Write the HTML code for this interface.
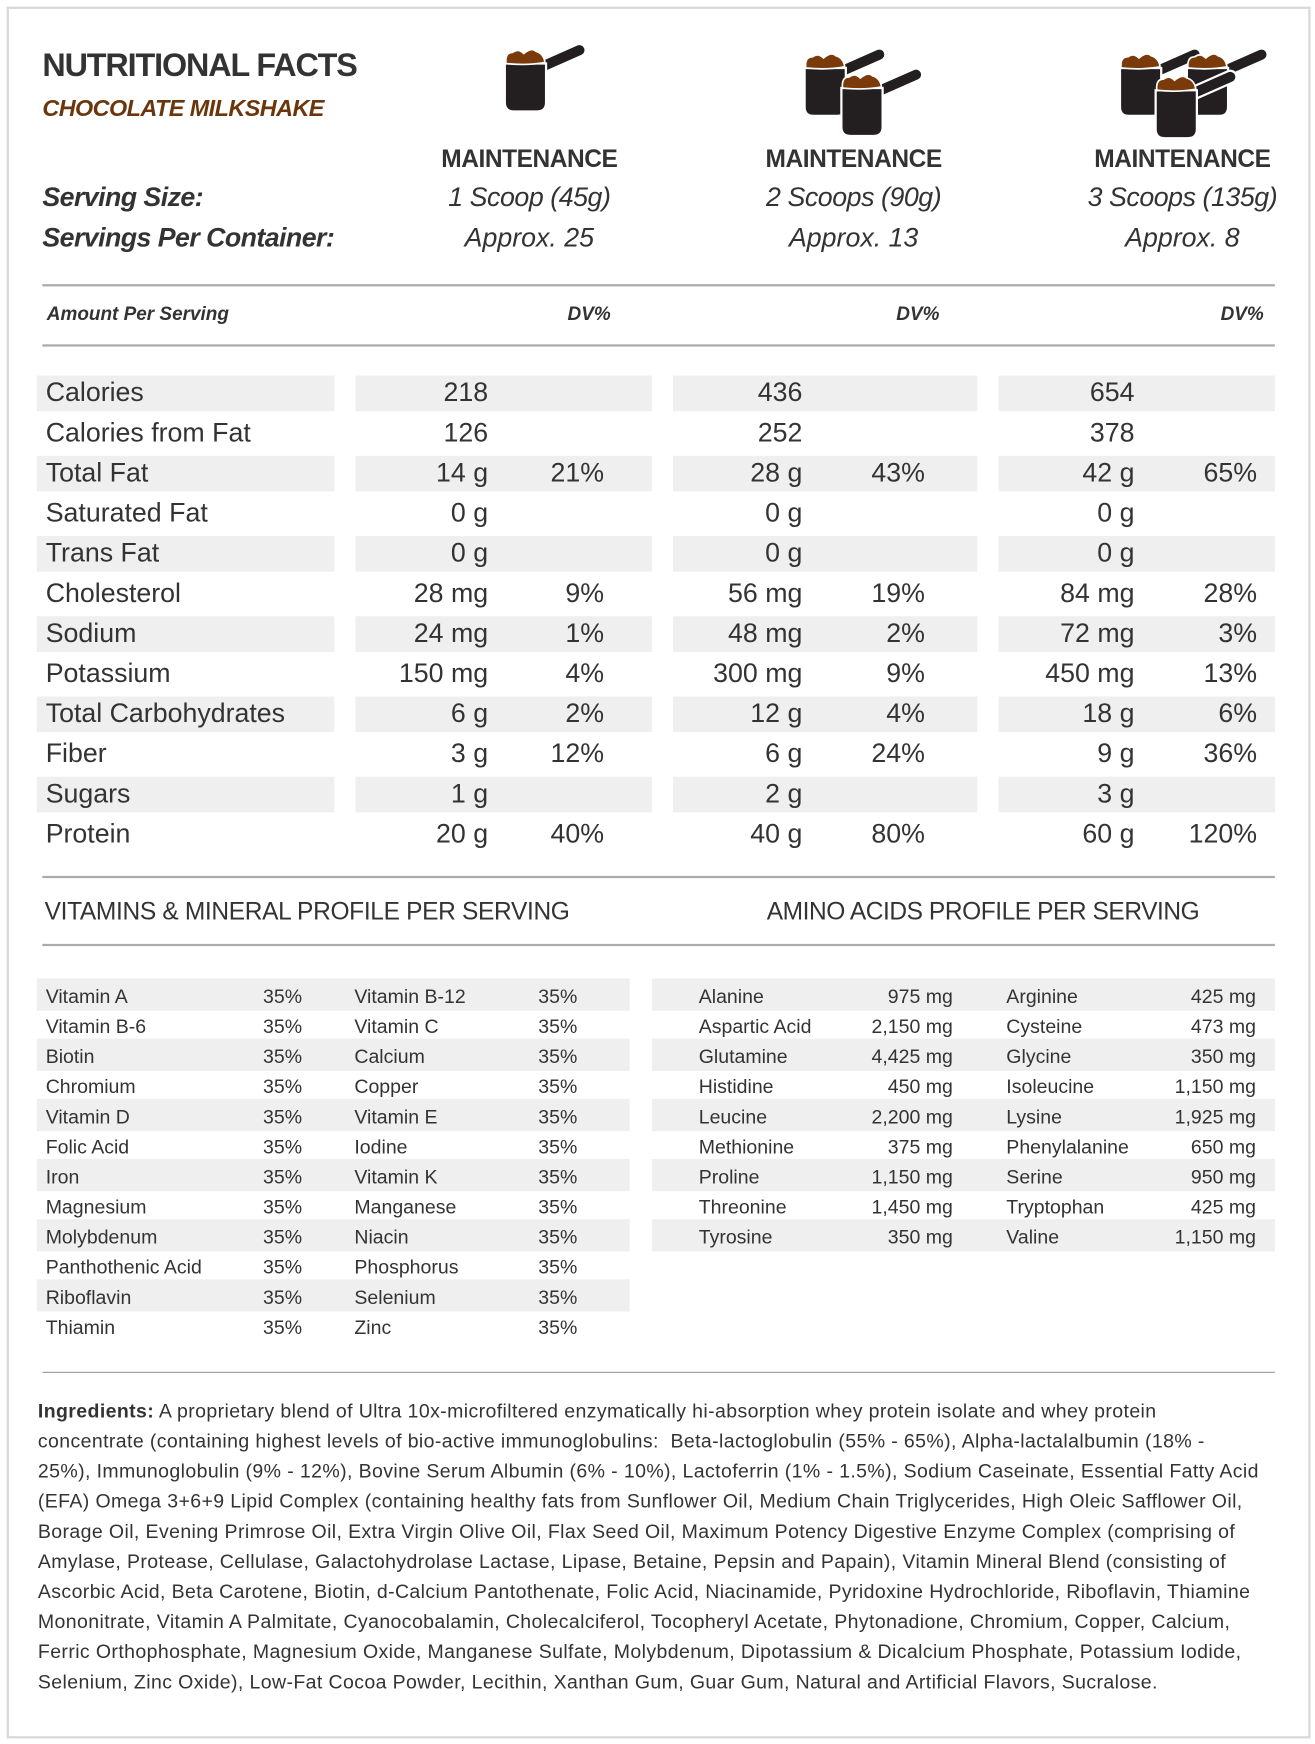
<!DOCTYPE html>
<html><head><meta charset="utf-8">
<style>
html,body{margin:0;padding:0;background:#fff;}
body{width:1315px;height:1744px;overflow:hidden;position:relative;}
#w{position:absolute;left:0;top:0;width:1180px;height:1565px;transform:scale(1.11441,1.11437);transform-origin:0 0;font-family:"Liberation Sans",sans-serif;color:#333;}
.a{position:absolute;white-space:nowrap;line-height:1;}
.sh{position:absolute;background:#efefef;}
.hl{position:absolute;height:2px;background:#aaa;left:38px;width:1106px;}
.r{text-align:right;}
.it{font-style:italic;}
.ing div{white-space:nowrap;}
</style></head><body><div id="w">
<div style="position:absolute;left:6px;top:6px;width:1166px;height:1550px;border:2px solid #d8d8d8;"></div>

<svg width="1180" height="130" style="position:absolute;left:0;top:0">
<defs>
<g id="sc">
<line x1="33" y1="20" x2="67" y2="5" stroke="#fff" stroke-width="13" stroke-linecap="round"/>
<line x1="33" y1="20" x2="67" y2="5" stroke="#231f20" stroke-width="9" stroke-linecap="round"/>
<path d="M0,17 L37,17 L37,52 Q37,60 29,60 L8,60 Q0,60 0,52 Z" fill="#231f20" stroke="#fff" stroke-width="2"/>
<path d="M1,17 Q0,7 7,7 Q12,3 17,8 Q24,2 28,6 Q35,8 36,16 Q20,19 1,17 Z" fill="#7a3a0a" stroke="#fff" stroke-width="1.5"/>
</g></defs>
<use href="#sc" x="453" y="40"/>
<use href="#sc" x="722" y="44"/>
<use href="#sc" x="755" y="62"/>
<use href="#sc" x="1005" y="44"/>
<use href="#sc" x="1065" y="44"/>
<use href="#sc" x="1037" y="64"/>
</svg>

<div class="a" style="left:38px;top:45px;font-size:29px;font-weight:bold;letter-spacing:-1px;">NUTRITIONAL FACTS</div>
<div class="a it" style="left:38px;top:87px;font-size:21px;font-weight:bold;color:#6b360c;letter-spacing:-0.5px;">CHOCOLATE MILKSHAKE</div>

<div class="a" style="left:375px;width:200px;text-align:center;top:132px;font-size:22px;font-weight:bold;letter-spacing:-0.4px;">MAINTENANCE</div>
<div class="a" style="left:666px;width:200px;text-align:center;top:132px;font-size:22px;font-weight:bold;letter-spacing:-0.4px;">MAINTENANCE</div>
<div class="a" style="left:961px;width:200px;text-align:center;top:132px;font-size:22px;font-weight:bold;letter-spacing:-0.4px;">MAINTENANCE</div>

<div class="a it" style="left:38px;top:166px;font-size:24px;font-weight:bold;letter-spacing:-0.5px;">Serving Size:</div>
<div class="a it" style="left:38px;top:202px;font-size:24px;font-weight:bold;letter-spacing:-0.5px;">Servings Per Container:</div>
<div class="a it" style="left:375px;width:200px;text-align:center;top:166px;font-size:24px;letter-spacing:-0.4px;">1 Scoop (45g)</div>
<div class="a it" style="left:666px;width:200px;text-align:center;top:166px;font-size:24px;letter-spacing:-0.4px;">2 Scoops (90g)</div>
<div class="a it" style="left:961px;width:200px;text-align:center;top:166px;font-size:24px;letter-spacing:-0.4px;">3 Scoops (135g)</div>
<div class="a it" style="left:375px;width:200px;text-align:center;top:202px;font-size:24px;">Approx. 25</div>
<div class="a it" style="left:666px;width:200px;text-align:center;top:202px;font-size:24px;">Approx. 13</div>
<div class="a it" style="left:961px;width:200px;text-align:center;top:202px;font-size:24px;">Approx. 8</div>

<div class="hl" style="top:255px"></div>
<div class="a it" style="left:42px;top:273px;font-size:17px;font-weight:bold;">Amount Per Serving</div>
<div class="a it r" style="left:448px;width:100px;top:273px;font-size:17px;font-weight:bold;">DV%</div>
<div class="a it r" style="left:743px;width:100px;top:273px;font-size:17px;font-weight:bold;">DV%</div>
<div class="a it r" style="left:1034px;width:100px;top:273px;font-size:17px;font-weight:bold;">DV%</div>
<div class="hl" style="top:309px"></div>

<div class="hl" style="top:786px"></div>
<div class="a" style="left:40px;top:807px;font-size:22px;letter-spacing:-0.3px;">VITAMINS &amp; MINERAL PROFILE PER SERVING</div>
<div class="a" style="left:688px;top:807px;font-size:22px;letter-spacing:-0.4px;">AMINO ACIDS PROFILE PER SERVING</div>
<div class="hl" style="top:847px"></div>

<div class="hl" style="top:1231px;height:1px;background:#999"></div>
<div class="ing" style="position:absolute;left:34px;top:1253px;font-size:17.5px;line-height:27px;letter-spacing:0.35px;">
<div><b>Ingredients:</b> A proprietary blend of Ultra 10x-microfiltered enzymatically hi-absorption whey protein isolate and whey protein</div>
<div>concentrate (containing highest levels of bio-active immunoglobulins:&nbsp; Beta-lactoglobulin (55% - 65%), Alpha-lactalalbumin (18% -</div>
<div>25%), Immunoglobulin (9% - 12%), Bovine Serum Albumin (6% - 10%), Lactoferrin (1% - 1.5%), Sodium Caseinate, Essential Fatty Acid</div>
<div>(EFA) Omega 3+6+9 Lipid Complex (containing healthy fats from Sunflower Oil, Medium Chain Triglycerides, High Oleic Safflower Oil,</div>
<div>Borage Oil, Evening Primrose Oil, Extra Virgin Olive Oil, Flax Seed Oil, Maximum Potency Digestive Enzyme Complex (comprising of</div>
<div>Amylase, Protease, Cellulase, Galactohydrolase Lactase, Lipase, Betaine, Pepsin and Papain), Vitamin Mineral Blend (consisting of</div>
<div>Ascorbic Acid, Beta Carotene, Biotin, d-Calcium Pantothenate, Folic Acid, Niacinamide, Pyridoxine Hydrochloride, Riboflavin, Thiamine</div>
<div>Mononitrate, Vitamin A Palmitate, Cyanocobalamin, Cholecalciferol, Tocopheryl Acetate, Phytonadione, Chromium, Copper, Calcium,</div>
<div>Ferric Orthophosphate, Magnesium Oxide, Manganese Sulfate, Molybdenum, Dipotassium &amp; Dicalcium Phosphate, Potassium Iodide,</div>
<div>Selenium, Zinc Oxide), Low-Fat Cocoa Powder, Lecithin, Xanthan Gum, Guar Gum, Natural and Artificial Flavors, Sucralose.</div>
</div>

<!-- Nutrient rows -->
<div class="sh" style="left:33px;top:337px;width:267px;height:32px"></div><div class="sh" style="left:319px;top:337px;width:266px;height:32px"></div><div class="sh" style="left:604px;top:337px;width:273px;height:32px"></div><div class="sh" style="left:896px;top:337px;width:248px;height:32px"></div>
<div class="sh" style="left:33px;top:409px;width:267px;height:32px"></div><div class="sh" style="left:319px;top:409px;width:266px;height:32px"></div><div class="sh" style="left:604px;top:409px;width:273px;height:32px"></div><div class="sh" style="left:896px;top:409px;width:248px;height:32px"></div>
<div class="sh" style="left:33px;top:481px;width:267px;height:32px"></div><div class="sh" style="left:319px;top:481px;width:266px;height:32px"></div><div class="sh" style="left:604px;top:481px;width:273px;height:32px"></div><div class="sh" style="left:896px;top:481px;width:248px;height:32px"></div>
<div class="sh" style="left:33px;top:553px;width:267px;height:32px"></div><div class="sh" style="left:319px;top:553px;width:266px;height:32px"></div><div class="sh" style="left:604px;top:553px;width:273px;height:32px"></div><div class="sh" style="left:896px;top:553px;width:248px;height:32px"></div>
<div class="sh" style="left:33px;top:625px;width:267px;height:32px"></div><div class="sh" style="left:319px;top:625px;width:266px;height:32px"></div><div class="sh" style="left:604px;top:625px;width:273px;height:32px"></div><div class="sh" style="left:896px;top:625px;width:248px;height:32px"></div>
<div class="sh" style="left:33px;top:697px;width:267px;height:32px"></div><div class="sh" style="left:319px;top:697px;width:266px;height:32px"></div><div class="sh" style="left:604px;top:697px;width:273px;height:32px"></div><div class="sh" style="left:896px;top:697px;width:248px;height:32px"></div>

<div style="position:absolute;left:0;top:341px;font-size:24px;">
<div class="a" style="left:41px;top:0">Calories</div><div class="a r" style="left:338px;width:100px;top:0">218</div><div class="a r" style="left:620px;width:100px;top:0">436</div><div class="a r" style="left:918px;width:100px;top:0">654</div>
<div class="a" style="left:41px;top:36px">Calories from Fat</div><div class="a r" style="left:338px;width:100px;top:36px">126</div><div class="a r" style="left:620px;width:100px;top:36px">252</div><div class="a r" style="left:918px;width:100px;top:36px">378</div>
<div class="a" style="left:41px;top:72px">Total Fat</div><div class="a r" style="left:338px;width:100px;top:72px">14 g</div><div class="a r" style="left:442px;width:100px;top:72px">21%</div><div class="a r" style="left:620px;width:100px;top:72px">28 g</div><div class="a r" style="left:730px;width:100px;top:72px">43%</div><div class="a r" style="left:918px;width:100px;top:72px">42 g</div><div class="a r" style="left:1028px;width:100px;top:72px">65%</div>
<div class="a" style="left:41px;top:108px">Saturated Fat</div><div class="a r" style="left:338px;width:100px;top:108px">0 g</div><div class="a r" style="left:620px;width:100px;top:108px">0 g</div><div class="a r" style="left:918px;width:100px;top:108px">0 g</div>
<div class="a" style="left:41px;top:144px">Trans Fat</div><div class="a r" style="left:338px;width:100px;top:144px">0 g</div><div class="a r" style="left:620px;width:100px;top:144px">0 g</div><div class="a r" style="left:918px;width:100px;top:144px">0 g</div>
<div class="a" style="left:41px;top:180px">Cholesterol</div><div class="a r" style="left:338px;width:100px;top:180px">28 mg</div><div class="a r" style="left:442px;width:100px;top:180px">9%</div><div class="a r" style="left:620px;width:100px;top:180px">56 mg</div><div class="a r" style="left:730px;width:100px;top:180px">19%</div><div class="a r" style="left:918px;width:100px;top:180px">84 mg</div><div class="a r" style="left:1028px;width:100px;top:180px">28%</div>
<div class="a" style="left:41px;top:216px">Sodium</div><div class="a r" style="left:338px;width:100px;top:216px">24 mg</div><div class="a r" style="left:442px;width:100px;top:216px">1%</div><div class="a r" style="left:620px;width:100px;top:216px">48 mg</div><div class="a r" style="left:730px;width:100px;top:216px">2%</div><div class="a r" style="left:918px;width:100px;top:216px">72 mg</div><div class="a r" style="left:1028px;width:100px;top:216px">3%</div>
<div class="a" style="left:41px;top:252px">Potassium</div><div class="a r" style="left:338px;width:100px;top:252px">150 mg</div><div class="a r" style="left:442px;width:100px;top:252px">4%</div><div class="a r" style="left:620px;width:100px;top:252px">300 mg</div><div class="a r" style="left:730px;width:100px;top:252px">9%</div><div class="a r" style="left:918px;width:100px;top:252px">450 mg</div><div class="a r" style="left:1028px;width:100px;top:252px">13%</div>
<div class="a" style="left:41px;top:288px">Total Carbohydrates</div><div class="a r" style="left:338px;width:100px;top:288px">6 g</div><div class="a r" style="left:442px;width:100px;top:288px">2%</div><div class="a r" style="left:620px;width:100px;top:288px">12 g</div><div class="a r" style="left:730px;width:100px;top:288px">4%</div><div class="a r" style="left:918px;width:100px;top:288px">18 g</div><div class="a r" style="left:1028px;width:100px;top:288px">6%</div>
<div class="a" style="left:41px;top:324px">Fiber</div><div class="a r" style="left:338px;width:100px;top:324px">3 g</div><div class="a r" style="left:442px;width:100px;top:324px">12%</div><div class="a r" style="left:620px;width:100px;top:324px">6 g</div><div class="a r" style="left:730px;width:100px;top:324px">24%</div><div class="a r" style="left:918px;width:100px;top:324px">9 g</div><div class="a r" style="left:1028px;width:100px;top:324px">36%</div>
<div class="a" style="left:41px;top:360px">Sugars</div><div class="a r" style="left:338px;width:100px;top:360px">1 g</div><div class="a r" style="left:620px;width:100px;top:360px">2 g</div><div class="a r" style="left:918px;width:100px;top:360px">3 g</div>
<div class="a" style="left:41px;top:396px">Protein</div><div class="a r" style="left:338px;width:100px;top:396px">20 g</div><div class="a r" style="left:442px;width:100px;top:396px">40%</div><div class="a r" style="left:620px;width:100px;top:396px">40 g</div><div class="a r" style="left:730px;width:100px;top:396px">80%</div><div class="a r" style="left:918px;width:100px;top:396px">60 g</div><div class="a r" style="left:1028px;width:100px;top:396px">120%</div>
</div>

<!-- vitamins shading -->
<div class="sh" style="left:33px;top:878px;width:532px;height:29px"></div>
<div class="sh" style="left:33px;top:932px;width:532px;height:29px"></div>
<div class="sh" style="left:33px;top:986px;width:532px;height:29px"></div>
<div class="sh" style="left:33px;top:1040px;width:532px;height:29px"></div>
<div class="sh" style="left:33px;top:1094px;width:532px;height:29px"></div>
<div class="sh" style="left:33px;top:1148px;width:532px;height:29px"></div>
<div class="sh" style="left:585px;top:878px;width:559px;height:29px"></div>
<div class="sh" style="left:585px;top:932px;width:559px;height:29px"></div>
<div class="sh" style="left:585px;top:986px;width:559px;height:29px"></div>
<div class="sh" style="left:585px;top:1040px;width:559px;height:29px"></div>
<div class="sh" style="left:585px;top:1094px;width:559px;height:29px"></div>

<div style="position:absolute;left:0;top:886px;font-size:17.5px;">
<div class="a" style="left:41px;top:0">Vitamin A</div><div class="a" style="left:236px;top:0">35%</div><div class="a" style="left:318px;top:0">Vitamin B-12</div><div class="a" style="left:483px;top:0">35%</div>
<div class="a" style="left:41px;top:27px">Vitamin B-6</div><div class="a" style="left:236px;top:27px">35%</div><div class="a" style="left:318px;top:27px">Vitamin C</div><div class="a" style="left:483px;top:27px">35%</div>
<div class="a" style="left:41px;top:54px">Biotin</div><div class="a" style="left:236px;top:54px">35%</div><div class="a" style="left:318px;top:54px">Calcium</div><div class="a" style="left:483px;top:54px">35%</div>
<div class="a" style="left:41px;top:81px">Chromium</div><div class="a" style="left:236px;top:81px">35%</div><div class="a" style="left:318px;top:81px">Copper</div><div class="a" style="left:483px;top:81px">35%</div>
<div class="a" style="left:41px;top:108px">Vitamin D</div><div class="a" style="left:236px;top:108px">35%</div><div class="a" style="left:318px;top:108px">Vitamin E</div><div class="a" style="left:483px;top:108px">35%</div>
<div class="a" style="left:41px;top:135px">Folic Acid</div><div class="a" style="left:236px;top:135px">35%</div><div class="a" style="left:318px;top:135px">Iodine</div><div class="a" style="left:483px;top:135px">35%</div>
<div class="a" style="left:41px;top:162px">Iron</div><div class="a" style="left:236px;top:162px">35%</div><div class="a" style="left:318px;top:162px">Vitamin K</div><div class="a" style="left:483px;top:162px">35%</div>
<div class="a" style="left:41px;top:189px">Magnesium</div><div class="a" style="left:236px;top:189px">35%</div><div class="a" style="left:318px;top:189px">Manganese</div><div class="a" style="left:483px;top:189px">35%</div>
<div class="a" style="left:41px;top:216px">Molybdenum</div><div class="a" style="left:236px;top:216px">35%</div><div class="a" style="left:318px;top:216px">Niacin</div><div class="a" style="left:483px;top:216px">35%</div>
<div class="a" style="left:41px;top:243px">Panthothenic Acid</div><div class="a" style="left:236px;top:243px">35%</div><div class="a" style="left:318px;top:243px">Phosphorus</div><div class="a" style="left:483px;top:243px">35%</div>
<div class="a" style="left:41px;top:270px">Riboflavin</div><div class="a" style="left:236px;top:270px">35%</div><div class="a" style="left:318px;top:270px">Selenium</div><div class="a" style="left:483px;top:270px">35%</div>
<div class="a" style="left:41px;top:297px">Thiamin</div><div class="a" style="left:236px;top:297px">35%</div><div class="a" style="left:318px;top:297px">Zinc</div><div class="a" style="left:483px;top:297px">35%</div>

<div class="a" style="left:627px;top:0">Alanine</div><div class="a r" style="left:735px;width:120px;top:0">975 mg</div><div class="a" style="left:903px;top:0">Arginine</div><div class="a r" style="left:1007px;width:120px;top:0">425 mg</div>
<div class="a" style="left:627px;top:27px">Aspartic Acid</div><div class="a r" style="left:735px;width:120px;top:27px">2,150 mg</div><div class="a" style="left:903px;top:27px">Cysteine</div><div class="a r" style="left:1007px;width:120px;top:27px">473 mg</div>
<div class="a" style="left:627px;top:54px">Glutamine</div><div class="a r" style="left:735px;width:120px;top:54px">4,425 mg</div><div class="a" style="left:903px;top:54px">Glycine</div><div class="a r" style="left:1007px;width:120px;top:54px">350 mg</div>
<div class="a" style="left:627px;top:81px">Histidine</div><div class="a r" style="left:735px;width:120px;top:81px">450 mg</div><div class="a" style="left:903px;top:81px">Isoleucine</div><div class="a r" style="left:1007px;width:120px;top:81px">1,150 mg</div>
<div class="a" style="left:627px;top:108px">Leucine</div><div class="a r" style="left:735px;width:120px;top:108px">2,200 mg</div><div class="a" style="left:903px;top:108px">Lysine</div><div class="a r" style="left:1007px;width:120px;top:108px">1,925 mg</div>
<div class="a" style="left:627px;top:135px">Methionine</div><div class="a r" style="left:735px;width:120px;top:135px">375 mg</div><div class="a" style="left:903px;top:135px">Phenylalanine</div><div class="a r" style="left:1007px;width:120px;top:135px">650 mg</div>
<div class="a" style="left:627px;top:162px">Proline</div><div class="a r" style="left:735px;width:120px;top:162px">1,150 mg</div><div class="a" style="left:903px;top:162px">Serine</div><div class="a r" style="left:1007px;width:120px;top:162px">950 mg</div>
<div class="a" style="left:627px;top:189px">Threonine</div><div class="a r" style="left:735px;width:120px;top:189px">1,450 mg</div><div class="a" style="left:903px;top:189px">Tryptophan</div><div class="a r" style="left:1007px;width:120px;top:189px">425 mg</div>
<div class="a" style="left:627px;top:216px">Tyrosine</div><div class="a r" style="left:735px;width:120px;top:216px">350 mg</div><div class="a" style="left:903px;top:216px">Valine</div><div class="a r" style="left:1007px;width:120px;top:216px">1,150 mg</div>
</div>
</div></body></html>
